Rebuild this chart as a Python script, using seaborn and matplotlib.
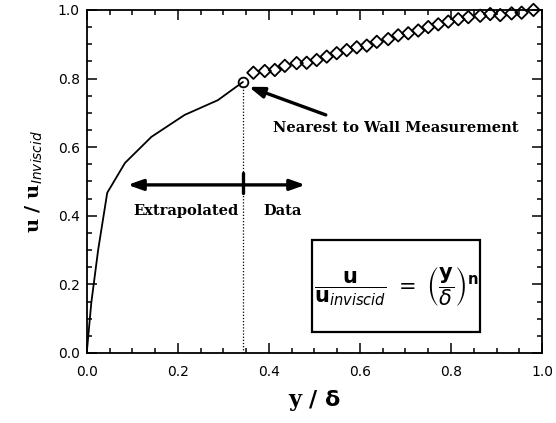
import numpy as np
import matplotlib
matplotlib.use("Agg")
import matplotlib.pyplot as plt
from matplotlib.patches import Rectangle
import seaborn as sns

# extrapolated profile
extrap_x = [0.0, 0.010, 0.025, 0.045, 0.084, 0.142, 0.215, 0.288, 0.343]
extrap_y = [0.0, 0.146, 0.300, 0.467, 0.554, 0.630, 0.694, 0.737, 0.790]

# measured points
data_x = [0.366, 0.391, 0.413, 0.435, 0.461, 0.483, 0.505, 0.527, 0.549, 0.571,
          0.593, 0.615, 0.637, 0.662, 0.684, 0.706, 0.728, 0.750, 0.772, 0.794,
          0.816, 0.838, 0.864, 0.886, 0.908, 0.933, 0.955, 0.981]
data_y = [0.817, 0.822, 0.825, 0.837, 0.845, 0.846, 0.854, 0.864, 0.874, 0.883,
          0.891, 0.896, 0.907, 0.915, 0.926, 0.932, 0.940, 0.950, 0.958, 0.966,
          0.973, 0.979, 0.983, 0.988, 0.985, 0.990, 0.992, 1.000]

wall_x, wall_y = 0.343, 0.790

sns.set_style("ticks", rc={"text.color": "black", "axes.labelcolor": "black",
                           "xtick.color": "black", "ytick.color": "black",
                           "axes.edgecolor": "black"})
plt.rcParams["font.family"] = ["DejaVu Sans"]

fig = plt.figure(figsize=(5.56, 4.23), dpi=100)
ax = fig.add_axes([0.156, 0.1655, 0.819, 0.811])

sns.lineplot(x=extrap_x, y=extrap_y, sort=False, estimator=None,
             color="black", lw=1.3, ax=ax)
sns.scatterplot(x=data_x, y=data_y, marker="D", s=40, facecolor="none",
                edgecolor="black", linewidth=1.3, ax=ax, clip_on=False, zorder=3)
ax.plot([wall_x], [wall_y], marker="o", ms=7, mfc="none", mec="black", mew=1.3)

# dotted separator
ax.plot([wall_x, wall_x], [0, wall_y - 0.012], ls=(0, (1, 1.5)), color="black", lw=0.9)

# extrapolated / data arrows
arrow_y = 0.49
head = "-|>,head_length=0.9,head_width=0.32"
ax.annotate("", xy=(0.09, arrow_y), xytext=(wall_x, arrow_y),
            arrowprops=dict(arrowstyle=head, color="black", lw=2.4, shrinkA=0, shrinkB=0))
ax.annotate("", xy=(0.48, arrow_y), xytext=(wall_x, arrow_y),
            arrowprops=dict(arrowstyle=head, color="black", lw=2.4, shrinkA=0, shrinkB=0))
ax.plot([wall_x, wall_x], [0.465, 0.525], color="black", lw=2.4)

bold = dict(family="DejaVu Serif", weight="bold", fontsize=10.5)
ax.text(0.333, 0.415, "Extrapolated", ha="right", va="center", **bold)
ax.text(0.387, 0.415, "Data", ha="left", va="center", **bold)

ax.annotate("", xy=(0.356, 0.776), xytext=(0.525, 0.694),
            arrowprops=dict(arrowstyle=head, color="black", lw=2.4, shrinkA=0, shrinkB=0))
ax.text(0.41, 0.656, "Nearest to Wall Measurement", ha="left", va="center", **bold)

# formula box
ax.add_patch(Rectangle((0.495, 0.061), 0.369, 0.269, fc="white", ec="black",
                       lw=1.6, zorder=4))
ax.text(0.679, 0.195,
        r"$\dfrac{\mathbf{u}}{\mathbf{u}_{\mathit{inviscid}}}\ =\ \left(\dfrac{\mathbf{y}}{\delta}\right)^{\mathbf{n}}$",
        ha="center", va="center", fontsize=15, zorder=5)

ax.set_xlim(0, 1.0)
ax.set_ylim(0, 1.0)
ax.set_xticks([0.0, 0.2, 0.4, 0.6, 0.8, 1.0])
ax.set_yticks([0.0, 0.2, 0.4, 0.6, 0.8, 1.0])
ax.set_xticks(np.arange(0, 1.001, 0.05), minor=True)
ax.set_yticks(np.arange(0, 1.001, 0.05), minor=True)
ax.tick_params(which="both", direction="in", top=True, right=True, width=1.1,
               labelsize=10)
ax.tick_params(axis="x", which="major", pad=9)
ax.tick_params(axis="y", which="major", pad=5)
ax.tick_params(which="major", length=7)
ax.tick_params(which="minor", length=3.5)
for s in ax.spines.values():
    s.set_linewidth(1.3)
    s.set_visible(True)

ax.set_xlabel(r"y / $\mathbf{\delta}$", family="DejaVu Serif", weight="bold",
              fontsize=16, labelpad=6)
ax.set_ylabel(r"u / u$_{\mathit{Inviscid}}$", family="DejaVu Serif",
              weight="bold", fontsize=14, labelpad=9)

fig.savefig("out.png", dpi=100)
